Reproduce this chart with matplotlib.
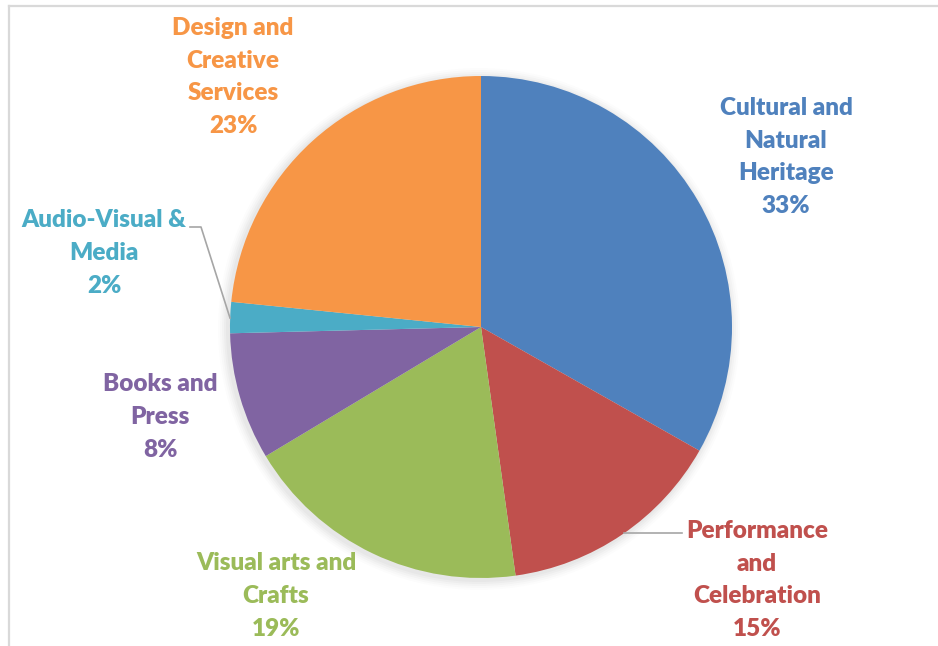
"""
Pie chart of cultural domains share
"""

import matplotlib
matplotlib.use("Agg")
import matplotlib.pyplot as plt

categories = [
    "Cultural and\nNatural\nHeritage",
    "Performance\nand\nCelebration",
    "Visual arts and\nCrafts",
    "Books and\nPress",
    "Audio-Visual &\nMedia",
    "Design and\nCreative\nServices",
]
shares = [33.2, 14.6, 18.6, 8.2, 2.0, 23.4]
colors = ["#4F81BD", "#C0504D", "#9BBB59", "#8064A2", "#4BACC6", "#F79646"]

# label centre positions in pixels (x, y from top)
label_pos = [(786, 157), (757, 580), (276, 596), (160, 417), (104, 253), (233, 77)]

W, H = 938, 646
fig = plt.figure(figsize=(W / 100, H / 100), dpi=100)
ax = fig.add_axes([0, 0, 1, 1])
ax.set_xlim(0, W)
ax.set_ylim(0, H)
ax.set_aspect("equal")
ax.axis("off")

cx, cy, r = 481, H - 327, 251

# soft shadow
for i, a in enumerate([0.025, 0.025, 0.02, 0.015, 0.01]):
    ax.add_patch(plt.Circle((cx - 2, cy - 2), r + 2 + i * 2, color="black", alpha=a, lw=0, zorder=0))

ax.pie(shares, colors=colors, startangle=90, counterclock=False,
       center=(cx, cy), radius=r, frame=True,
       wedgeprops={"linewidth": 0, "zorder": 1})
ax.set_xlim(0, W)
ax.set_ylim(0, H)
ax.axis("off")

for name, val, col, (x, y) in zip(categories, shares, colors, label_pos):
    ax.text(x, H - y, f"{name}\n{val:.0f}%", color=col, ha="center", va="center",
            fontsize=17.5, fontweight="heavy", family="Lato", linespacing=1.6)

# leader lines
ax.plot([190, 201, 230], [H - 227, H - 227, H - 318], color="#A6A6A6", lw=1.2)
ax.plot([624, 682], [H - 533, H - 533], color="#A6A6A6", lw=1.2)

# chart area border
fig.add_artist(plt.Line2D([9 / W, 9 / W], [0, 1 - 6 / H], color="#D9D9D9", lw=1.6))
fig.add_artist(plt.Line2D([9 / W, 1], [1 - 6 / H, 1 - 6 / H], color="#D9D9D9", lw=1.6))

fig.savefig("out.png", dpi=100)
